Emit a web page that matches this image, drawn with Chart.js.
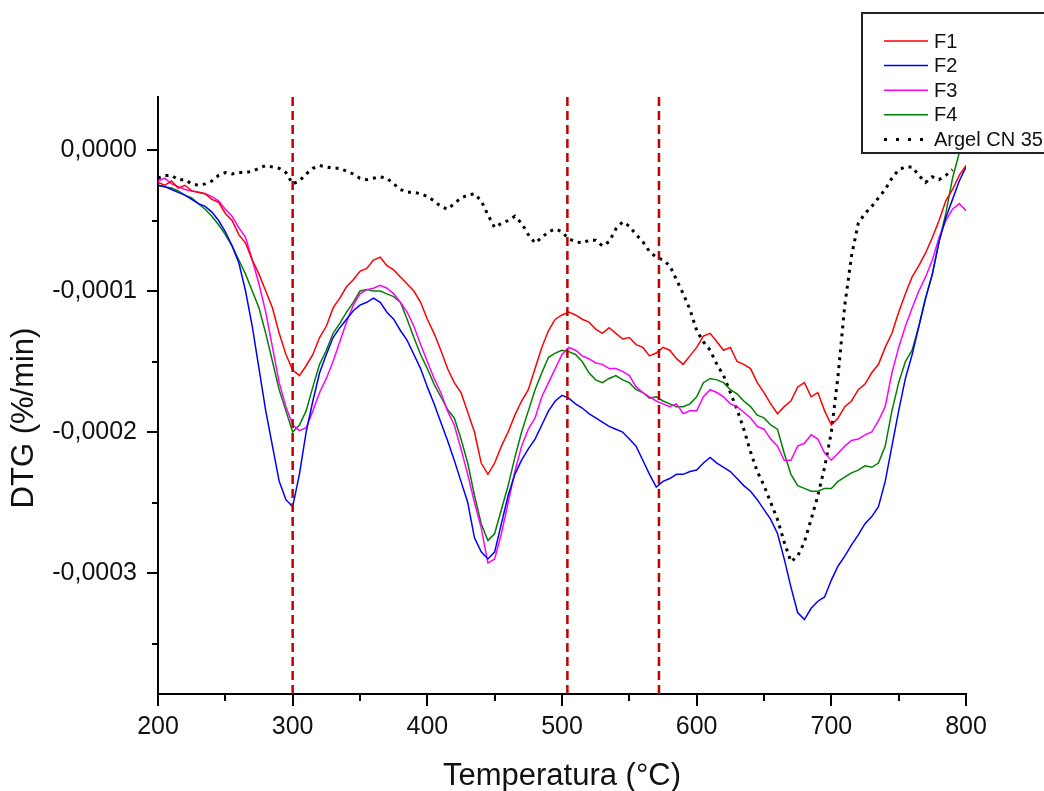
<!DOCTYPE html>
<html>
<head>
<meta charset="utf-8">
<script src="https://cdn.jsdelivr.net/npm/chart.js@4/dist/chart.umd.min.js"></script>
<style>
  html, body { margin: 0; padding: 0; background: #fff; }
  #wrap { width: 1044px; height: 791px; position: relative; }
</style>
</head>
<body>
<div id="wrap"><canvas id="dtg-chart"></canvas></div>
<script>
// temperatures (°C) every 5 degrees, DTG values in units of 1e-4 %/min
const temps = [
  200, 205, 210, 215, 220, 225, 230, 235, 240, 245,
  250, 255, 260, 265, 270, 275, 280, 285, 290, 295,
  300, 305, 310, 315, 320, 325, 330, 335, 340, 345,
  350, 355, 360, 365, 370, 375, 380, 385, 390, 395,
  400, 405, 410, 415, 420, 425, 430, 435, 440, 445,
  450, 455, 460, 465, 470, 475, 480, 485, 490, 495,
  500, 505, 510, 515, 520, 525, 530, 535, 540, 545,
  550, 555, 560, 565, 570, 575, 580, 585, 590, 595,
  600, 605, 610, 615, 620, 625, 630, 635, 640, 645,
  650, 655, 660, 665, 670, 675, 680, 685, 690, 695,
  700, 705, 710, 715, 720, 725, 730, 735, 740, 745,
  750, 755, 760, 765, 770, 775, 780, 785, 790, 795,
  800];

const f1 = [
  -0.23, -0.25, -0.22, -0.27, -0.25, -0.29, -0.30, -0.31, -0.35, -0.37,
  -0.45, -0.50, -0.60, -0.66, -0.78, -0.88, -1.00, -1.12, -1.30, -1.45,
  -1.56, -1.60, -1.53, -1.45, -1.33, -1.25, -1.12, -1.05, -0.97, -0.92,
  -0.86, -0.84, -0.78, -0.76, -0.82, -0.85, -0.90, -0.95, -1.00, -1.08,
  -1.20, -1.30, -1.42, -1.55, -1.65, -1.72, -1.86, -2.00, -2.22, -2.30,
  -2.22, -2.10, -2.00, -1.88, -1.78, -1.70, -1.55, -1.40, -1.28, -1.20,
  -1.17, -1.15, -1.17, -1.20, -1.22, -1.27, -1.30, -1.26, -1.30, -1.34,
  -1.33, -1.38, -1.40, -1.46, -1.44, -1.40, -1.42, -1.48, -1.52, -1.46,
  -1.40, -1.32, -1.30, -1.36, -1.42, -1.40, -1.50, -1.52, -1.55, -1.65,
  -1.72, -1.80, -1.87, -1.82, -1.78, -1.68, -1.65, -1.75, -1.72, -1.85,
  -1.95, -1.90, -1.82, -1.78, -1.70, -1.66, -1.58, -1.52, -1.40, -1.30,
  -1.15, -1.02, -0.90, -0.82, -0.73, -0.62, -0.50, -0.36, -0.28, -0.18,
  -0.11];

const f2 = [
  -0.25, -0.26, -0.28, -0.30, -0.32, -0.35, -0.38, -0.40, -0.44, -0.50,
  -0.58, -0.68, -0.80, -1.00, -1.25, -1.55, -1.85, -2.10, -2.35, -2.48,
  -2.53, -2.30, -2.00, -1.78, -1.58, -1.45, -1.33, -1.26, -1.20, -1.14,
  -1.10, -1.08, -1.05, -1.08, -1.15, -1.20, -1.28, -1.35, -1.45, -1.55,
  -1.68, -1.80, -1.93, -2.06, -2.20, -2.35, -2.50, -2.75, -2.85, -2.90,
  -2.85, -2.65, -2.45, -2.30, -2.20, -2.12, -2.05, -1.95, -1.85, -1.78,
  -1.74, -1.76, -1.80, -1.83, -1.87, -1.90, -1.93, -1.96, -1.98, -2.00,
  -2.05, -2.10, -2.20, -2.30, -2.39, -2.35, -2.33, -2.30, -2.30, -2.28,
  -2.27, -2.22, -2.18, -2.22, -2.25, -2.28, -2.33, -2.38, -2.42, -2.48,
  -2.55, -2.62, -2.72, -2.90, -3.10, -3.28, -3.33, -3.25, -3.20, -3.17,
  -3.05, -2.95, -2.88, -2.80, -2.73, -2.65, -2.60, -2.53, -2.35, -2.10,
  -1.85, -1.62, -1.45, -1.25, -1.05, -0.88, -0.65, -0.48, -0.35, -0.22,
  -0.12];

const f3 = [
  -0.22, -0.20, -0.24, -0.26, -0.28, -0.29, -0.30, -0.31, -0.33, -0.36,
  -0.42, -0.47, -0.55, -0.62, -0.78, -0.95, -1.15, -1.40, -1.65, -1.82,
  -1.95, -1.99, -1.97, -1.85, -1.72, -1.62, -1.50, -1.36, -1.22, -1.10,
  -1.02, -0.99, -0.98, -0.96, -0.98, -1.02, -1.08, -1.15, -1.25, -1.38,
  -1.50, -1.62, -1.72, -1.85, -1.95, -2.12, -2.30, -2.50, -2.68, -2.93,
  -2.90, -2.72, -2.50, -2.28, -2.10, -1.98, -1.90, -1.75, -1.65, -1.55,
  -1.45, -1.40, -1.42, -1.46, -1.48, -1.51, -1.52, -1.55, -1.55, -1.57,
  -1.60, -1.68, -1.72, -1.75, -1.78, -1.80, -1.82, -1.80, -1.87, -1.85,
  -1.85, -1.75, -1.70, -1.72, -1.75, -1.80, -1.82, -1.86, -1.90, -1.96,
  -1.98, -2.05, -2.10, -2.20, -2.20, -2.10, -2.08, -2.02, -2.05, -2.15,
  -2.20, -2.15, -2.10, -2.06, -2.05, -2.02, -2.00, -1.92, -1.82, -1.58,
  -1.40, -1.25, -1.12, -1.00, -0.90, -0.78, -0.62, -0.50, -0.42, -0.38,
  -0.43];

const f4 = [
  -0.25, -0.26, -0.27, -0.29, -0.32, -0.34, -0.38, -0.42, -0.47, -0.53,
  -0.60, -0.68, -0.78, -0.88, -1.00, -1.12, -1.30, -1.50, -1.70, -1.85,
  -2.00, -1.95, -1.85, -1.68, -1.52, -1.42, -1.30, -1.23, -1.15, -1.08,
  -1.00, -0.99, -1.00, -1.00, -1.02, -1.04, -1.08, -1.20, -1.33, -1.45,
  -1.55, -1.66, -1.75, -1.84, -1.90, -2.05, -2.22, -2.45, -2.65, -2.77,
  -2.72, -2.55, -2.38, -2.18, -2.00, -1.85, -1.70, -1.58, -1.47, -1.44,
  -1.42, -1.43, -1.45, -1.50, -1.58, -1.63, -1.65, -1.62, -1.60, -1.63,
  -1.65, -1.70, -1.72, -1.76, -1.75, -1.78, -1.80, -1.82, -1.82, -1.80,
  -1.75, -1.65, -1.62, -1.63, -1.65, -1.70, -1.73, -1.78, -1.82, -1.88,
  -1.90, -1.95, -1.98, -2.15, -2.30, -2.38, -2.40, -2.42, -2.42, -2.40,
  -2.40, -2.35, -2.32, -2.29, -2.27, -2.24, -2.25, -2.22, -2.10, -1.85,
  -1.65, -1.50, -1.42, -1.25, -1.05, -0.88, -0.65, -0.45, -0.20, -0.02,
  0.05];

// reference sample, 200 to 790 °C
const argel = [
  -0.20, -0.18, -0.18, -0.21, -0.21, -0.24, -0.25, -0.24, -0.22, -0.18,
  -0.16, -0.17, -0.16, -0.16, -0.15, -0.13, -0.11, -0.12, -0.13, -0.16,
  -0.24, -0.22, -0.17, -0.13, -0.11, -0.12, -0.13, -0.13, -0.15, -0.17,
  -0.20, -0.21, -0.20, -0.19, -0.20, -0.24, -0.28, -0.30, -0.30, -0.31,
  -0.33, -0.36, -0.40, -0.42, -0.38, -0.34, -0.32, -0.31, -0.36, -0.46,
  -0.55, -0.52, -0.50, -0.47, -0.52, -0.60, -0.66, -0.62, -0.58, -0.56,
  -0.58, -0.63, -0.65, -0.66, -0.64, -0.64, -0.68, -0.65, -0.56, -0.51,
  -0.54, -0.60, -0.65, -0.72, -0.76, -0.78, -0.82, -0.92, -1.02, -1.13,
  -1.28, -1.36, -1.42, -1.52, -1.60, -1.72, -1.84, -1.98, -2.14, -2.28,
  -2.38, -2.50, -2.62, -2.78, -2.92, -2.88, -2.78, -2.62, -2.45, -2.25,
  -2.00, -1.60, -1.10, -0.75, -0.52, -0.45, -0.40, -0.34, -0.28, -0.20,
  -0.14, -0.12, -0.12, -0.18, -0.23, -0.19, -0.21, -0.18, -0.14];

const seriesNames = ['F1', 'F2', 'F3', 'F4', 'Argel CN 35'];
const seriesColors = ['#ff0000', '#0000ff', '#ff00ff', '#008000', '#000000'];
const markerTemps = [300, 504, 572];

const yMin = -3.858;
const yMax = 0.376;

const toPoints = (vals) => vals.map((v, i) => ({ x: temps[i], y: v }));

const curveSets = [f1, f2, f3, f4, argel].map((vals, i) => ({
  label: seriesNames[i],
  data: toPoints(vals),
  borderColor: seriesColors[i],
  borderWidth: i === 4 ? 3 : 1.5,
  borderDash: i === 4 ? [3, 5] : [],
  pointRadius: 0,
  tension: 0,
  order: 1,
}));

const markerSets = markerTemps.map(t => ({
  label: 'marker',
  data: [{ x: t, y: yMin }, { x: t, y: yMax }],
  borderColor: '#c00000',
  borderWidth: 2.5,
  borderDash: [9, 5],
  pointRadius: 0,
  order: 0,
}));

const fontFamily = 'Liberation Sans, Arial, sans-serif';
const tickFont = { family: fontFamily, size: 25 };

// major / minor ticks, axis titles and the boxed legend
const decorations = {
  id: 'decorations',
  afterDraw(chart) {
    const ctx = chart.ctx;
    const { x, y } = chart.scales;
    const area = chart.chartArea;
    ctx.save();
    ctx.strokeStyle = '#000';
    ctx.lineWidth = 2;
    x.ticks.forEach(t => {
      const px = Math.round(x.getPixelForValue(t.value));
      const len = t.value % 100 === 0 ? 12 : 7;
      ctx.beginPath();
      ctx.moveTo(px, area.bottom);
      ctx.lineTo(px, area.bottom + len);
      ctx.stroke();
    });
    y.ticks.forEach(t => {
      const py = Math.round(y.getPixelForValue(t.value));
      const len = Math.abs(t.value % 1) < 1e-6 ? 11 : 6;
      ctx.beginPath();
      ctx.moveTo(area.left, py);
      ctx.lineTo(area.left - len, py);
      ctx.stroke();
    });

    ctx.fillStyle = '#111';
    ctx.textAlign = 'center';
    ctx.textBaseline = 'middle';
    ctx.font = '31px ' + fontFamily;
    ctx.fillText('Temperatura (°C)', (area.left + area.right) / 2, 776);
    ctx.save();
    ctx.translate(24, 418);
    ctx.rotate(-Math.PI / 2);
    ctx.fillText('DTG (%/min)', 0, 0);
    ctx.restore();

    ctx.fillStyle = '#fff';
    ctx.fillRect(862, 13, 200, 140);
    ctx.strokeStyle = '#222';
    ctx.lineWidth = 2;
    ctx.strokeRect(862, 13, 200, 140);
    ctx.font = '20px ' + fontFamily;
    ctx.textAlign = 'left';
    seriesNames.forEach((name, i) => {
      const ly = 41 + i * 24.6;
      ctx.beginPath();
      ctx.strokeStyle = seriesColors[i];
      ctx.lineWidth = i === 4 ? 3 : 1.5;
      ctx.setLineDash(i === 4 ? [3, 9] : []);
      ctx.moveTo(884, ly);
      ctx.lineTo(928, ly);
      ctx.stroke();
      ctx.setLineDash([]);
      ctx.fillStyle = '#111';
      ctx.fillText(name, 934, ly + 1);
    });
    ctx.restore();
  }
};

new Chart(document.getElementById('dtg-chart'), {
  type: 'line',
  data: { datasets: [...markerSets, ...curveSets] },
  options: {
    responsive: true,
    maintainAspectRatio: false,
    animation: false,
    layout: { padding: { top: 97, right: 78, left: 0, bottom: 0 } },
    plugins: {
      legend: { display: false },
      tooltip: { enabled: false },
    },
    scales: {
      x: {
        type: 'linear',
        min: 200,
        max: 800,
        afterFit: (scale) => { scale.height = 97; },
        ticks: {
          stepSize: 50,
          color: '#111',
          font: tickFont,
          padding: 18,
          maxRotation: 0,
          callback: (v) => (v % 100 === 0 ? String(v) : ''),
        },
        grid: { drawOnChartArea: false, drawTicks: false },
        border: { color: '#000', width: 2 },
      },
      y: {
        type: 'linear',
        min: yMin,
        max: yMax,
        afterFit: (scale) => { scale.width = 158; },
        ticks: {
          stepSize: 0.5,
          includeBounds: false,
          color: '#111',
          font: tickFont,
          padding: 21,
          callback: (v) => (Math.abs(v % 1) < 1e-6 ? (v / 10000).toFixed(4).replace('.', ',') : ''),
        },
        grid: { drawOnChartArea: false, drawTicks: false },
        border: { color: '#000', width: 2 },
      },
    },
  },
  plugins: [decorations],
});
</script>
</body>
</html>
